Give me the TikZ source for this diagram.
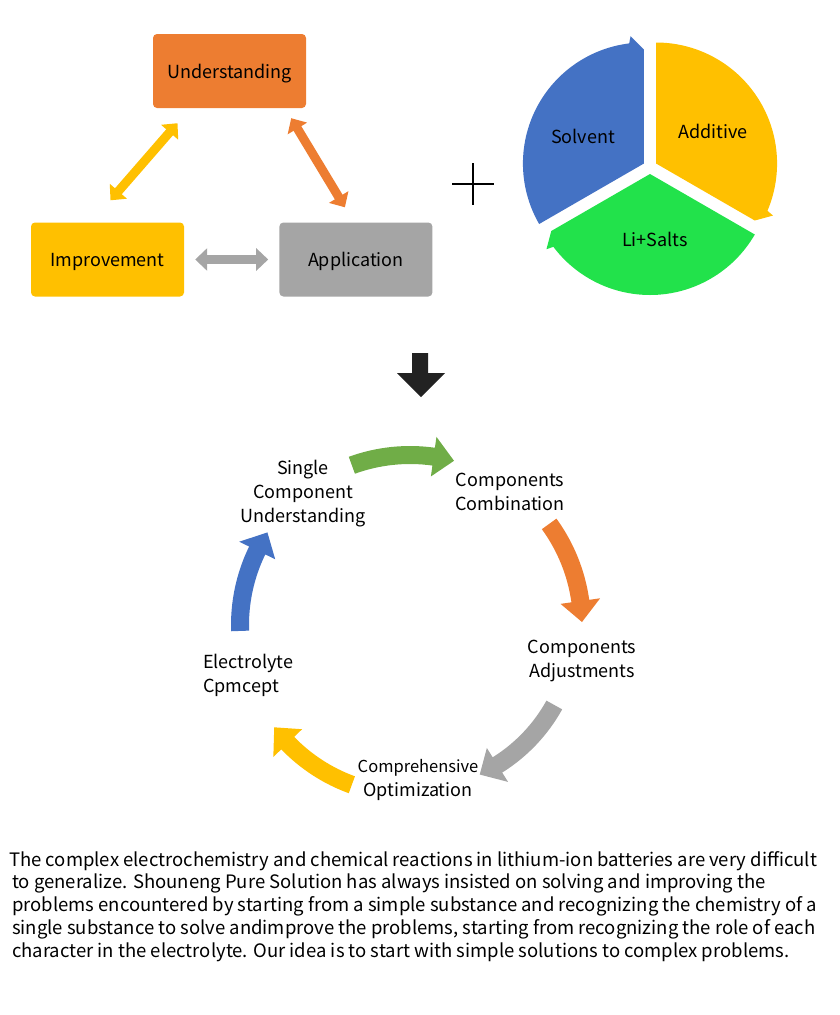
\documentclass[tikz,border=0pt]{standalone}
\usepackage{fontspec}
\setmainfont{Noto Sans CJK SC}
\usetikzlibrary{arrows.meta, calc, positioning}

\definecolor{cOrange}{HTML}{ED7D31}
\definecolor{cYellow}{HTML}{FFC000}
\definecolor{cGray}{HTML}{A5A5A5}
\definecolor{cBlue}{HTML}{4472C4}
\definecolor{cGreen}{HTML}{70AD47}
\definecolor{cLime}{HTML}{22E24B}
\definecolor{cBlack}{HTML}{222222}

\begin{document}
\begin{tikzpicture}[
        x=1pt, y=1pt,
        node distance = 95pt and 95pt,
        base/.style = {rounded corners=4pt, inner sep=0pt,
                       minimum height=74pt, align=center,
                       text height=18pt, text depth=4pt,
                       font=\fontsize{18}{22}\selectfont},
        block/.style = {base, minimum width=153pt},
        label/.style = {align=center, inner sep=0pt,
                        font=\fontsize{18}{24}\selectfont},
        dbl/.style = {line width=9pt,
                      {Triangle[width=22pt,length=12pt]}-{Triangle[width=22pt,length=12pt]}},
        ]
        \useasboundingbox (0,0) rectangle (840,-1015);
        % triangle of boxes
        \node [block, fill=cOrange] (und) at (229.5,-71) {Understanding};
        \node [block, fill=cYellow] (imp) at (107.5,-259.5) {Improvement};
        \node [block, fill=cGray, right=of imp] (app) {Application};

        \draw [dbl, cYellow] ([xshift=3pt,yshift=22pt]imp.north)
            -- ([xshift=-52pt,yshift=-15pt]und.south);
        \draw [dbl, cOrange] ([xshift=-15pt,yshift=-10pt]und.south east)
            -- ([xshift=-11pt,yshift=15pt]app.north);
        \draw [dbl, cGray, shorten <=11pt, shorten >=11pt] (imp.east) -- (app.west);

        % plus
        \draw [line width=2.5pt] (452,-184) -- (494,-184) (473,-163) -- (473,-205);

        % pie of three arrows
        \foreach \t/\col in {210/cBlue, 90/cYellow, -30/cLime}
            \fill [\col, shift={(650,-167)}, shift={(\t-60:7)}]
                (0,0) -- (\t:121) arc[start angle=\t, end angle=\t-113, radius=121]
                -- (\t-114:128) -- (\t-120:114) -- cycle;
        \node [label] (solv) at (583,-136) {Solvent};
        \node [label] (addi) at (713,-131) {Additive};
        \node [label] (salt) at (655,-239) {Li+Salts};

        % down arrow
        \fill [cBlack] (412,-353) -- (428,-353) -- (428,-373) -- (445,-373)
            -- (421,-397) -- (397,-373) -- (412,-373) -- cycle;

        % cycle
        \foreach \a/\b/\r/\col in {110/75/170/cGreen, 36/1/172/cOrange,
                                   -29/-65/165/cGray, -110/-143/170/cYellow,
                                   182/147/170/cBlue}
            \fill [\col, shift={(410,-625)}]
                (\a:\r-9) arc[start angle=\a, end angle=\b+7, radius=\r-9]
                -- (\b+7:\r-20) -- (\b:\r) -- (\b+7:\r+20) -- (\b+7:\r+9)
                arc[start angle=\b+7, end angle=\a, radius=\r+9] -- cycle;
        \node [label] (single) at (303,-494) {Single\\Component\\Understanding};
        \node [label] (comb) at (510,-492) {Components\\Combination};
        \node [label] (adj) at (582,-661) {Components\\Adjustments};
        \node [label] (opt) at (418,-780)
            {{\fontsize{16.5}{20}\selectfont Comprehensive}\\Optimization};
        \node [label, align=left, anchor=west] (conc) at (203,-675) {Electrolyte\\Cpmcept};

        % text
        \node [align=left, inner sep=0pt, anchor=north west,
               font=\fontsize{18.5}{22.75}\selectfont] (txt) at (9,-851)
            {The complex electrochemistry and chemical reactions in lithium-ion batteries are very difficult\\
            \hspace{3pt}to generalize. Shouneng Pure Solution has always insisted on solving and improving the\\
            \hspace{3pt}problems encountered by starting from a simple substance and recognizing the chemistry of a\\
            \hspace{3pt}single substance to solve andimprove the problems, starting from recognizing the role of each\\
            \hspace{3pt}character in the electrolyte. Our idea is to start with simple solutions to complex problems.};
    \end{tikzpicture}
\end{document}
